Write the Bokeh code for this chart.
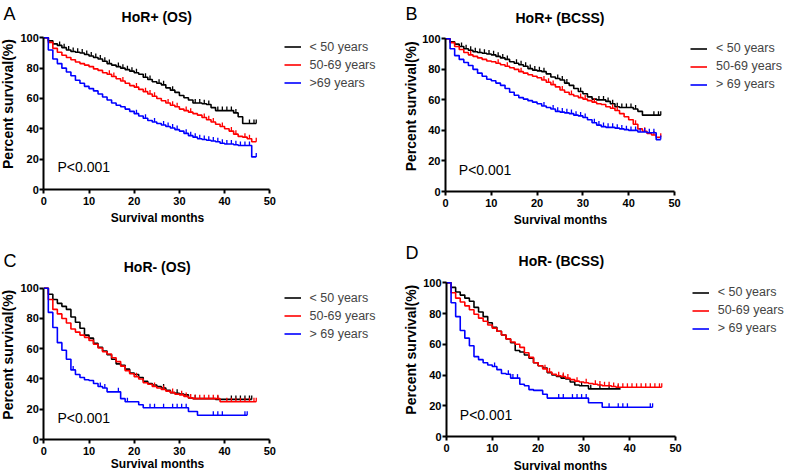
import numpy as np
from bokeh.plotting import figure
from bokeh.layouts import column, row
from bokeh.models import Label, Legend, LegendItem, FixedTicker, Range1d
from bokeh.embed import file_html
from bokeh.resources import INLINE

FONT = "Liberation Sans"
COLORS = ["#000000", "#ff0000", "#0000ff"]

# ---------------- data (percent survival at each month, step after) ----------------
A_lt50 = [100, 98, 96, 95, 93.5, 92, 91, 90.5, 90, 89,
          88, 87, 86, 84.5, 83, 82, 81, 80, 79, 78,
          77, 76, 74, 72.5, 71, 70, 69, 67, 65.5, 64,
          62, 60.5, 59, 57, 57, 56.5, 56, 54, 52, 52,
          52, 52, 50.5, 48, 43.5, 43.5, 43.5, 43.5]
A_50_69 = [100, 97, 93, 90.5, 88.5, 87, 85.5, 84, 83, 82,
           81, 79.5, 78.5, 77, 76, 74.5, 73, 71.5, 70, 68.5,
           67.5, 66, 64.5, 63, 61.5, 60, 58.5, 57, 55.5, 54.5,
           53, 52, 51, 50, 49, 47.5, 46, 44.5, 43, 41.5,
           40, 38.5, 36.5, 35, 34.5, 33.5, 31.5, 31.5]
A_gt69 = [100, 92, 86, 83, 80, 77.5, 75, 72, 70, 68,
          66.5, 65, 63, 61, 59, 57, 55.5, 54.5, 53, 51.5,
          50, 48.5, 47, 45.5, 44.5, 43.5, 42.5, 41.5, 40.5, 39.5,
          38.5, 37, 35.5, 34.5, 33.5, 33, 32.5, 32, 31.5, 30.5,
          30, 30, 29.5, 29, 29, 29, 21.5, 21.5]

B_lt50 = [100, 98, 96.5, 95, 93.5, 92.5, 91.5, 91, 90.5, 90,
          89.5, 88.5, 87.5, 86.5, 85, 84, 83, 82, 80.5, 79.5,
          79, 78.5, 77, 75, 74, 73, 71, 69.5, 67.5, 65.5,
          64, 62, 60.5, 60, 60, 59, 57.5, 55.5, 55, 55,
          55, 54, 52.5, 50, 50, 50, 50, 50]
B_50_69 = [100, 97.5, 95, 93, 91, 89.5, 88.5, 87.5, 86.5, 85.5,
           85, 84, 83, 82, 81, 80, 78.5, 77.5, 76.5, 75.5,
           74.5, 73, 71.5, 70, 68.5, 66.5, 65, 63.5, 62.5, 61.5,
           60.5, 59.5, 58.5, 57.5, 57, 55.5, 54.5, 53, 51, 49,
           47, 44, 41, 39.5, 38, 37, 35.5, 35.5]
B_gt69 = [100, 93.5, 89, 86.5, 84.5, 82.5, 80, 77.5, 75.5, 73.5,
          72.5, 71, 69.5, 67.5, 65, 63, 61.5, 60.5, 59.5, 58.5,
          57.5, 56, 55, 54, 52.5, 52, 51.5, 51, 50, 49.5,
          48.5, 47, 45, 43.5, 42.5, 42, 42, 41.5, 41, 40.5,
          40, 40, 39, 39, 38.5, 38.5, 34, 34]

C_lt50 = [100, 96, 92.5, 90, 88, 86, 81, 77.5, 73.5, 69,
          67, 63.5, 61, 58.5, 56, 53, 50, 49, 46.5, 44,
          43, 41, 38.5, 37, 36, 35, 34, 32.5, 31, 30.5,
          30, 29.5, 27.5, 27, 27, 27, 27, 27, 26.5, 26.5,
          26.5, 26.5, 26.5, 26.5, 26.5, 26.5, 26.5]
C_50_69 = [100, 92.5, 86, 83, 80, 77, 73, 71, 69, 67.5,
           65.5, 63, 60.5, 58, 56.5, 54, 51.5, 48.5, 45.5, 43.5,
           41.5, 40, 37.5, 36.5, 35, 34, 33, 32, 31, 30,
           29.5, 28.5, 27.5, 27, 27, 27, 27, 27, 27, 25,
           25, 25, 25, 25, 25, 25, 25, 25]
C_gt69 = [100, 84, 74, 64, 59, 53, 46, 43, 41, 39.5,
          39, 37, 35, 34, 31.5, 31.5, 31.5, 27, 25, 25,
          25, 23, 21, 21, 21, 21, 21, 21, 21, 21,
          21, 21, 18.5, 18.5, 16, 16, 16, 16, 16, 16,
          16, 16, 16, 16, 16, 16]

D_lt50 = [100, 97, 94, 92, 90, 88, 84, 81, 78, 74,
          71, 68.5, 66, 63.5, 61, 56, 55, 53, 51, 48,
          46, 44.5, 41.5, 40, 39, 38, 37.5, 35.5, 33.5, 33,
          33, 31, 31, 31, 31, 31, 31, 31, 31]
D_50_69 = [100, 93.5, 90, 87.5, 85, 82.5, 79.5, 77, 75, 72.5,
           70.5, 68.5, 66, 63.5, 61.5, 60, 58, 54.5, 51.5, 48,
           46, 44, 42, 40.5, 39.5, 39, 38, 37, 36, 35.5,
           35, 34.5, 34, 33.5, 33, 33, 32.5, 32, 32, 32,
           32, 32, 32, 32, 32, 32, 32, 32]
D_gt69 = [100, 87, 78, 69, 64, 59, 52, 50, 48, 46.5,
          45.5, 43.5, 41, 40.5, 38, 38, 34, 33, 30.5, 30,
          30, 27.5, 25, 25, 25, 25, 25, 25, 25, 25,
          25, 22, 22, 22, 19, 19, 19, 19, 19, 19,
          19, 19, 19, 19, 19, 19]

# censored observation times (months)
A_cens = [
    [3.5, 4.5, 5.5, 6.5, 7.5, 8.5, 9.5, 10.5, 11.5, 12.5, 13.5, 14.5, 16.5, 17.5, 18.5, 19.5, 20.5,
     22.5, 23.5, 25.5, 26.5, 28.5, 33.5, 34.5, 35.5, 36.5, 38.5, 39.5, 40.5, 41.5, 42.5, 45.5, 46.5, 47],
    [14.5, 15.5, 17.5, 20.5, 22.5, 23.5, 24.5, 27.5, 28.5, 29.5, 31.5, 32.5, 35.5, 36.5, 37.5, 39.5,
     41.5, 42.5, 44.5, 45.5, 47],
    [20.5, 22.5, 24.5, 26.5, 27.5, 28.5, 29.5, 31.5, 32.5, 33.5, 34.5, 35.5, 36.5, 37.5, 38.5, 39.5,
     40.5, 41.5, 42.5, 43.5, 44.5, 45.5, 47],
]
B_cens = [
    [3.5, 4.5, 5.5, 6.5, 7.5, 8.5, 9.5, 10.5, 11.5, 12.5, 13.5, 15.5, 16.5, 17.5, 18.5, 19.5, 20.5,
     21.5, 24.5, 25.5, 26.5, 29.5, 33.5, 34.5, 35.5, 36.5, 37.5, 38.5, 39.5, 40.5, 41.5, 45.5, 46.5, 47],
    [5.5, 11.5, 13.5, 16.5, 21.5, 22.5, 23.5, 25.5, 27.5, 29.5, 30.5, 32.5, 36.5, 37.5, 41.5, 43.5,
     45.5, 47],
    [21.5, 23.5, 24.5, 25.5, 26.5, 27.5, 28.5, 29.5, 30.5, 32.5, 33.5, 34.5, 35.5, 36.5, 37.5, 38.5,
     39.5, 40.5, 41.5, 42.5, 43.5, 44.5, 45.5, 47],
]
C_cens = [
    [26.5, 29.5, 33.5, 38.5, 41.5, 42.5, 43.5, 44.5, 45.5, 46],
    [20.5, 24.5, 26.5, 28.5, 30.5, 31.5, 32.5, 33.5, 34.5, 35.5, 36.5, 37.5, 38.5, 40.5, 41.5,
     42.5, 43.5, 44.5, 45.5, 46.5, 47],
    [6.5, 12.5, 13.5, 16.5, 18.5, 23.5, 24.5, 26.5, 28.5, 29.5, 30.5, 31.5, 37.5, 38.5, 39.5, 44.5, 45],
]
D_cens = [
    [25.5, 29.5, 31.5, 33.5, 35.5, 37.5],
    [21.5, 22.5, 24.5, 25.5, 26.5, 28.5, 30.5, 32.5, 33.5, 34.5, 35.5, 36.5, 37.5, 38.5, 39.5,
     40.5, 41.5, 42.5, 43.5, 44.5, 45.5, 46.5, 47],
    [10.5, 13.5, 14.5, 15.5, 24.5, 25.5, 27.5, 28.5, 29.5, 30.5, 35.5, 37.5, 38.5, 39.5, 44.5, 45],
]

A_names = ["< 50 years", "50-69 years", ">69 years"]
B_names = ["< 50 years", "50-69 years", "> 69 years"]
C_names = ["< 50 years", "50-69 years", "> 69 years"]
D_names = ["< 50 years", "50-69 years", "> 69 years"]

x_ticks = [0, 10, 20, 30, 40, 50]
y_ticks = [0, 20, 40, 60, 80, 100]

LEG_ITEM_H = 17
LEG_SPACING = 1


def make_panel(letter, title, series, names, cens, g):
    # layout: pixel positions (within this figure) of x=0, x=50, y=0, y=100
    w, h = g["w"], g["h"]
    kx = (g["x50"] - g["x0"]) / 50.0
    ky = (g["y0"] - g["y100"]) / 100.0

    def dx(px):
        return (px - g["x0"]) / kx

    def dy(py):
        return (g["y0"] - py) / ky

    p = figure(width=w, height=h, output_backend="svg", toolbar_location=None,
               x_range=Range1d(dx(0), dx(w)), y_range=Range1d(dy(h), dy(0)),
               min_border=0, min_border_left=0, min_border_right=0,
               min_border_top=0, min_border_bottom=0)
    p.outline_line_color = None
    p.grid.visible = False
    p.background_fill_color = "white"
    p.border_fill_color = "white"

    for ax, ticks, standoff in ((p.xaxis, x_ticks, 3), (p.yaxis, y_ticks, 1)):
        ax.fixed_location = 0
        ax.ticker = FixedTicker(ticks=ticks)
        ax.bounds = (ticks[0], ticks[-1])
        ax.axis_line_width = 2
        ax.axis_line_color = "black"
        ax.major_tick_line_width = 2
        ax.major_tick_line_color = "black"
        ax.major_tick_in = 0
        ax.major_tick_out = 4
        ax.minor_tick_line_color = None
        ax.major_label_text_font = FONT
        ax.major_label_text_font_style = "bold"
        ax.major_label_text_font_size = "11px"
        ax.major_label_text_color = "black"
        ax.major_label_standoff = standoff

    items = []
    for vals, name, ct, col in zip(series, names, cens, COLORS):
        months = list(range(len(vals)))
        r = p.step(months, vals, mode="after", line_color=col, line_width=1.6)
        cy = [vals[min(int(t), len(vals) - 1)] for t in ct]
        p.ray(x=ct, y=cy, length=4, angle=np.pi / 2, length_units="screen",
              line_color=col, line_width=1.3)
        mk = p.scatter(x=[], y=[], marker="dash", angle=np.pi / 2, size=7,
                       line_color=col, line_width=1.5)
        items.append(LegendItem(label=name, renderers=[r, mk]))

    leg_h = 3 * LEG_ITEM_H + 2 * LEG_SPACING
    lx, ltop = g["leg"]
    legend = Legend(items=items, location=(lx, h - ltop - leg_h), padding=0, margin=0,
                    spacing=LEG_SPACING, glyph_width=17, glyph_height=LEG_ITEM_H,
                    label_height=LEG_ITEM_H, label_standoff=9,
                    label_text_font=FONT, label_text_font_size="12.5px",
                    background_fill_alpha=0, border_line_color=None)
    p.add_layout(legend)

    def add_text(pos, text, size, style="normal", align="left", angle=0.0):
        px, py = pos
        p.add_layout(Label(x=dx(px), y=dy(py), text=text, text_font=FONT,
                           text_font_size=size, text_font_style=style, angle=angle,
                           text_align=align, text_baseline="middle", text_color="black"))

    add_text(g["letter"], letter, "18px")
    add_text(g["title"], title, "14px", "bold", "center")
    add_text(g["ylab"], "Percent survival(%)", "14px", "bold", "center", np.pi / 2)
    add_text(g["xlab"], "Survival months", "12px", "bold", "center")
    add_text(g["p"], "P<0.001", "14px")
    return p


gA = dict(w=390, h=235, x0=43.3, x50=269.3, y0=189, y100=37.3,
          leg=(283.5, 38), letter=(3, 13.5), title=(156.3, 16), ylab=(7.5, 103.5),
          xlab=(157, 217.5), p=(57, 166))
gB = dict(w=397, h=235, x0=55, x50=284, y0=191, y100=38.3,
          leg=(300, 39.8), letter=(15, 13), title=(169.5, 17.5), ylab=(20, 105.8),
          xlab=(170, 219.5), p=(68.3, 169))
gC = dict(w=390, h=240, x0=43.3, x50=269.3, y0=204, y100=52.7,
          leg=(283.5, 54.2), letter=(3, 25.5), title=(156.7, 31), ylab=(7.5, 119.2),
          xlab=(157, 228.5), p=(57, 182.5))
gD = dict(w=397, h=240, x0=56, x50=285, y0=201, y100=47.3,
          leg=(301.7, 48.8), letter=(15, 17.5), title=(170.8, 25.8), ylab=(20, 114.2),
          xlab=(170, 230), p=(69.3, 179))

pA = make_panel("A", "HoR+ (OS)", [A_lt50, A_50_69, A_gt69], A_names, A_cens, gA)
pB = make_panel("B", "HoR+ (BCSS)", [B_lt50, B_50_69, B_gt69], B_names, B_cens, gB)
pC = make_panel("C", "HoR- (OS)", [C_lt50, C_50_69, C_gt69], C_names, C_cens, gC)
pD = make_panel("D", "HoR- (BCSS)", [D_lt50, D_50_69, D_gt69], D_names, D_cens, gD)

layout = column(row(pA, pB), row(pC, pD))

open("out.html", "w").write(file_html(layout, INLINE))
